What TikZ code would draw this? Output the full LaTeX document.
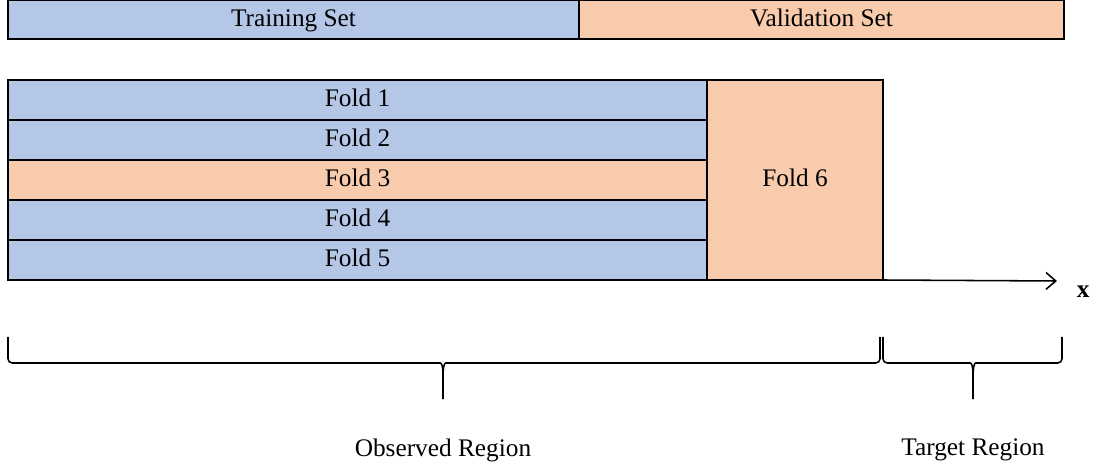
\documentclass[tikz,border=0pt]{standalone}
\usepackage{fontspec}
\setmainfont{Liberation Serif}
\newfontfamily\labelfont{Liberation Serif}
\usetikzlibrary{positioning,arrows.meta}
\definecolor{trainblue}{RGB}{180,199,231}
\definecolor{validorange}{RGB}{248,203,173}

\begin{document}
\begin{tikzpicture}[font=\labelfont\fontsize{18}{21}\selectfont,
  box/.style={draw=black,line width=1.1pt,inner sep=0pt,outer sep=0pt,minimum height=1cm,
    text height=0.94em,text depth=0pt},
  trainbox/.style={box,fill=trainblue},
  validbox/.style={box,fill=validorange},
  fold/.style={minimum width=17.475cm},
  bracepath/.style={line width=1.1pt,rounded corners=3pt}]
  \useasboundingbox (0,0) rectangle (27.35,-11.725);
  % top bar
  \node[trainbox,anchor=north west,minimum width=14.275cm,minimum height=0.975cm] (train) at (0.2,0) {Training Set};
  \node[validbox,anchor=west,minimum width=12.125cm,minimum height=0.975cm] (valid) at (train.east) {Validation Set};
  % folds
  \node[trainbox,fold,anchor=north west] (fold1) at (0.2,-2) {Fold 1};
  \node[trainbox,fold,below=0pt of fold1] (fold2) {Fold 2};
  \node[validbox,fold,below=0pt of fold2] (fold3) {Fold 3};
  \node[trainbox,fold,below=0pt of fold3] (fold4) {Fold 4};
  \node[trainbox,fold,below=0pt of fold4] (fold5) {Fold 5};
  \node[validbox,anchor=north west,minimum width=4.4cm,minimum height=5cm] (fold6) at (fold1.north east) {Fold 6};
  % axis
  \coordinate (xend) at (26.425,-7.025);
  \draw[line width=1.1pt,-{Straight Barb[length=7pt,width=12pt]}] (fold6.south east) -- (xend);
  \node (xlab) at (27.08,-7.3) {\textbf{x}};
  % braces
  \draw[bracepath] (0.2,-8.425) -- (0.2,-9.075) -- (10.9,-9.075)
    .. controls (11.05,-9.075) and (11.075,-9.2) .. (11.075,-9.45) -- (11.075,-9.975);
  \draw[bracepath] (22.0,-8.425) -- (22.0,-9.075) -- (11.25,-9.075)
    .. controls (11.1,-9.075) and (11.075,-9.2) .. (11.075,-9.45);
  \draw[bracepath] (22.075,-8.425) -- (22.075,-9.075) -- (24.15,-9.075)
    .. controls (24.3,-9.075) and (24.325,-9.2) .. (24.325,-9.45) -- (24.325,-9.975);
  \draw[bracepath] (26.55,-8.425) -- (26.55,-9.075) -- (24.5,-9.075)
    .. controls (24.35,-9.075) and (24.325,-9.2) .. (24.325,-9.45);
  \node (observed) at (11.075,-11.25) {Observed Region};
  \node (target) at (24.325,-11.25) {Target Region};
\end{tikzpicture}
\end{document}
